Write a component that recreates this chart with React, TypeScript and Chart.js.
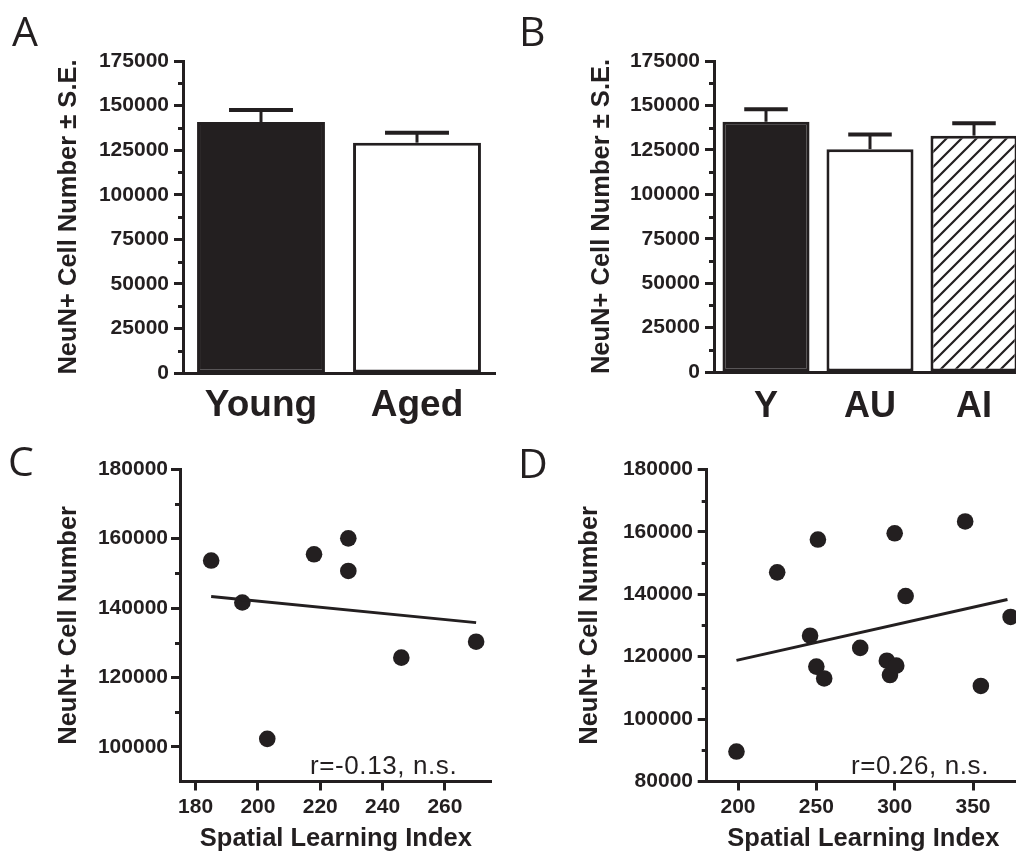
import React, { useEffect, useRef } from "react";
import { Chart, registerables } from "chart.js";

Chart.register(...registerables);

const INK = "#231f20";
const SANS = "'Liberation Sans', Arial, Helvetica, sans-serif";
const LETTER_FONT = "'Open Sans', 'Noto Sans', sans-serif";

// ---------- Panel A ----------
const catsA = ["Young", "Aged"];
const meanA = [140800, 129200];
const seA = [6700, 5600];

// ---------- Panel B ----------
const catsB = ["Y", "AU", "AI"];
const meanB = [140800, 125400, 133000];
const seB = [7000, 8300, 7000];

const barTicks = [0, 25000, 50000, 75000, 100000, 125000, 150000, 175000];

// ---------- Panel C ----------
const xC = [185, 195, 203, 218, 229, 229, 246, 270];
const yC = [153700, 141600, 102300, 155500, 160100, 150700, 125700, 130300];
const fitXC = [185, 270];
const fitYC = [143300, 135800];
const xTicksC = [180, 200, 220, 240, 260];
const yTicksC = [100000, 120000, 140000, 160000, 180000];
const rTextC = "r=-0.13, n.s.";

// ---------- Panel D ----------
const xD = [199, 225, 251, 246, 250, 255, 278, 295, 297, 301, 300, 307, 345, 355, 374];
const yD = [89600, 147000, 157500, 126700, 116800, 113000, 122800, 118700, 114100, 117100, 159500, 139400, 163300, 110600, 132700];
const fitXD = [199, 372];
const fitYD = [118800, 138300];
const xTicksD = [200, 250, 300, 350];
const yTicksD = [80000, 100000, 120000, 140000, 160000, 180000];
const rTextD = "r=0.26, n.s.";

const barTitle = "NeuN+ Cell Number \u00b1 S.E.";
const scatterYTitle = "NeuN+ Cell Number";
const scatterXTitle = "Spatial Learning Index";

// minor ticks halfway between the major y ticks
const minorTicks = {
  id: "minorTicks",
  afterDraw(chart: any) {
    const s = chart.scales.y;
    const vals = s.ticks.map((t: any) => t.value);
    const ctx = chart.ctx;
    ctx.save();
    ctx.strokeStyle = INK;
    ctx.lineWidth = 3;
    for (let i = 0; i < vals.length - 1; i++) {
      const v = (vals[i] + vals[i + 1]) / 2;
      const y = Math.round(s.getPixelForValue(v)) + 0.5;
      ctx.beginPath();
      ctx.moveTo(s.right - 5, y);
      ctx.lineTo(s.right, y);
      ctx.stroke();
    }
    ctx.restore();
  },
};

// one-sided (upper) S.E. bars
const errorBars = {
  id: "errorBars",
  afterDatasetsDraw(chart: any, _args: any, opts: any) {
    const errs: number[] = opts.errors || [];
    const meta = chart.getDatasetMeta(0);
    const ys = chart.scales.y;
    const data = chart.data.datasets[0].data as number[];
    const ctx = chart.ctx;
    ctx.save();
    ctx.strokeStyle = INK;
    ctx.lineCap = "butt";
    meta.data.forEach((el: any, i: number) => {
      const { x, y, width } = el.getProps(["x", "y", "width"], true);
      const top = ys.getPixelForValue(data[i] + errs[i]);
      ctx.lineWidth = 3;
      ctx.beginPath();
      ctx.moveTo(x, y);
      ctx.lineTo(x, top);
      ctx.stroke();
      ctx.lineWidth = 4;
      ctx.beginPath();
      ctx.moveTo(x - width / 4, top);
      ctx.lineTo(x + width / 4, top);
      ctx.stroke();
    });
    ctx.restore();
  },
};

function makeHatch(target: HTMLCanvasElement) {
  const tile = document.createElement("canvas");
  tile.width = 15;
  tile.height = 15;
  const g = tile.getContext("2d")!;
  g.fillStyle = "#ffffff";
  g.fillRect(0, 0, 15, 15);
  g.strokeStyle = INK;
  g.lineWidth = 2.2;
  g.beginPath();
  g.moveTo(-2, 17);
  g.lineTo(17, -2);
  g.moveTo(-2, 2);
  g.lineTo(2, -2);
  g.moveTo(13, 17);
  g.lineTo(17, 13);
  g.stroke();
  return target.getContext("2d")!.createPattern(tile, "repeat");
}

interface BarGeom {
  top: number;
  right: number;
  yW: number;
  xH: number;
  yPad: number;
  titlePad: number;
  catSize: number;
  catPad: number;
  barPct: number;
}

function barChart(canvas: HTMLCanvasElement, labels: string[], means: number[], errs: number[], fills: any[], g: BarGeom) {
  return new Chart(canvas, {
    type: "bar",
    data: {
      labels,
      datasets: [
        {
          data: means,
          backgroundColor: fills,
          borderColor: INK,
          borderWidth: 3,
          borderSkipped: false,
          barPercentage: g.barPct,
          categoryPercentage: 1,
        } as any,
      ],
    },
    options: {
      responsive: false,
      animation: false,
      events: [],
      layout: { padding: { left: 0, top: g.top, right: g.right, bottom: 0 } },
      plugins: {
        legend: { display: false },
        tooltip: { enabled: false },
        errorBars: { errors: errs },
      } as any,
      scales: {
        x: {
          grid: { display: false, drawTicks: false },
          border: { display: true, color: INK, width: 3 },
          ticks: {
            color: INK,
            font: { family: SANS, size: g.catSize, weight: "bold" },
            padding: g.catPad,
            maxRotation: 0,
            autoSkip: false,
          },
          afterFit: (s: any) => {
            s.height = g.xH;
          },
        },
        y: {
          min: 0,
          max: 175000,
          afterBuildTicks: (s: any) => {
            s.ticks = barTicks.map((v) => ({ value: v }));
          },
          grid: { drawOnChartArea: false, drawTicks: true, tickLength: 9, tickWidth: 3, tickColor: INK },
          border: { display: true, color: INK, width: 3 },
          ticks: {
            color: INK,
            font: { family: SANS, size: 21, weight: "bold" },
            padding: g.yPad,
            callback: (v: any) => String(v),
          },
          title: {
            display: true,
            text: barTitle,
            color: INK,
            font: { family: SANS, size: 25.5, weight: "bold" },
            padding: { top: g.titlePad, bottom: 0 },
          },
          afterFit: (s: any) => {
            s.width = g.yW;
          },
        },
      } as any,
    },
    plugins: [errorBars, minorTicks],
  });
}

interface ScatterGeom {
  top: number;
  right: number;
  yW: number;
  xH: number;
  yPad: number;
  titlePad: number;
  xMin: number;
  xMax: number;
  yMin: number;
  yMax: number;
  xTicks: number[];
  yTicks: number[];
}

function scatterChart(canvas: HTMLCanvasElement, xs: number[], ys: number[], fx: number[], fy: number[], g: ScatterGeom) {
  return new Chart(canvas, {
    type: "scatter",
    data: {
      datasets: [
        {
          data: fx.map((x, i) => ({ x, y: fy[i] })),
          showLine: true,
          borderColor: INK,
          borderWidth: 3,
          pointRadius: 0,
          backgroundColor: INK,
        } as any,
        {
          data: xs.map((x, i) => ({ x, y: ys[i] })),
          pointRadius: 8.3,
          backgroundColor: INK,
          borderColor: INK,
          borderWidth: 0,
        } as any,
      ],
    },
    options: {
      responsive: false,
      animation: false,
      events: [],
      layout: { padding: { left: 0, top: g.top, right: g.right, bottom: 0 } },
      plugins: { legend: { display: false }, tooltip: { enabled: false } },
      scales: {
        x: {
          type: "linear",
          min: g.xMin,
          max: g.xMax,
          afterBuildTicks: (s: any) => {
            s.ticks = g.xTicks.map((v) => ({ value: v }));
          },
          grid: { drawOnChartArea: false, drawTicks: true, tickLength: 9, tickWidth: 3, tickColor: INK },
          border: { display: true, color: INK, width: 3 },
          ticks: {
            color: INK,
            font: { family: SANS, size: 21, weight: "bold" },
            padding: 4,
            maxRotation: 0,
            autoSkip: false,
            callback: (v: any) => String(v),
          },
          title: {
            display: true,
            text: scatterXTitle,
            color: INK,
            font: { family: SANS, size: 25.5, weight: "bold" },
            padding: { top: 0, bottom: 0.7 },
          },
          afterFit: (s: any) => {
            s.height = g.xH;
          },
        },
        y: {
          min: g.yMin,
          max: g.yMax,
          afterBuildTicks: (s: any) => {
            s.ticks = g.yTicks.map((v) => ({ value: v }));
          },
          grid: { drawOnChartArea: false, drawTicks: true, tickLength: 9, tickWidth: 3, tickColor: INK },
          border: { display: true, color: INK, width: 3 },
          ticks: {
            color: INK,
            font: { family: SANS, size: 21, weight: "bold" },
            padding: g.yPad,
            callback: (v: any) => String(v),
          },
          title: {
            display: true,
            text: scatterYTitle,
            color: INK,
            font: { family: SANS, size: 25.5, weight: "bold" },
            padding: { top: g.titlePad, bottom: 0 },
          },
          afterFit: (s: any) => {
            s.width = g.yW;
          },
        },
      } as any,
    },
    plugins: [minorTicks],
  });
}

const letterStyle = (left: number, top: number): React.CSSProperties => ({
  position: "absolute",
  left,
  top,
  fontFamily: LETTER_FONT,
  fontSize: 41,
  lineHeight: 1,
  color: INK,
  fontWeight: 400,
});

const noteStyle = (left: number, top: number): React.CSSProperties => ({
  position: "absolute",
  left,
  top,
  fontFamily: SANS,
  fontSize: 26,
  letterSpacing: 0.6,
  lineHeight: 1,
  color: INK,
  whiteSpace: "nowrap",
});

export default function App() {
  const refA = useRef<HTMLCanvasElement>(null);
  const refB = useRef<HTMLCanvasElement>(null);
  const refC = useRef<HTMLCanvasElement>(null);
  const refD = useRef<HTMLCanvasElement>(null);

  useEffect(() => {
    const charts: Chart[] = [];
    if (refA.current) {
      charts.push(
        barChart(refA.current, catsA, meanA, seA, [INK, "#ffffff"], {
          top: 61,
          right: 5,
          yW: 183,
          xH: 57,
          yPad: 5,
          titlePad: 53.2,
          catSize: 37,
          catPad: 11,
          barPct: 0.82,
        })
      );
    }
    if (refB.current) {
      const hatch = makeHatch(refB.current);
      charts.push(
        barChart(refB.current, catsB, meanB, seB, [INK, "#ffffff", hatch], {
          top: 61,
          right: 4,
          yW: 214,
          xH: 58,
          yPad: 5,
          titlePad: 86.4,
          catSize: 36,
          catPad: 13,
          barPct: 0.837,
        })
      );
    }
    if (refC.current) {
      charts.push(
        scatterChart(refC.current, xC, yC, fitXC, fitYC, {
          top: 39.3,
          right: 5,
          yW: 180,
          xH: 73.5,
          yPad: 3,
          titlePad: 53.2,
          xMin: 175,
          xMax: 275,
          yMin: 90000,
          yMax: 180000,
          xTicks: xTicksC,
          yTicks: yTicksC,
        })
      );
    }
    if (refD.current) {
      charts.push(
        scatterChart(refD.current, xD, yD, fitXD, fitYD, {
          top: 39.3,
          right: 10,
          yW: 206.7,
          xH: 73.5,
          yPad: 4.7,
          titlePad: 74.7,
          xMin: 180,
          xMax: 380,
          yMin: 80000,
          yMax: 180000,
          xTicks: xTicksD,
          yTicks: yTicksD,
        })
      );
    }
    return () => charts.forEach((c) => c.destroy());
  }, []);

  return (
    <div
      style={{
        position: "absolute",
        left: 0,
        top: 0,
        width: 1016,
        height: 855,
        overflow: "hidden",
        background: "#ffffff",
      }}
    >
      <canvas ref={refA} width={500} height={430} style={{ position: "absolute", left: 0, top: 0 }} />
      <canvas ref={refB} width={530} height={430} style={{ position: "absolute", left: 500, top: 0 }} />
      <canvas ref={refC} width={500} height={425} style={{ position: "absolute", left: 0, top: 430 }} />
      <canvas ref={refD} width={530} height={425} style={{ position: "absolute", left: 500, top: 430 }} />
      <div style={letterStyle(12, 10)}>A</div>
      <div style={letterStyle(519, 10)}>B</div>
      <div style={letterStyle(8, 440)}>C</div>
      <div style={letterStyle(518, 442)}>D</div>
      <div style={noteStyle(310, 752)}>{rTextC}</div>
      <div style={noteStyle(851, 752)}>{rTextD}</div>
    </div>
  );
}
